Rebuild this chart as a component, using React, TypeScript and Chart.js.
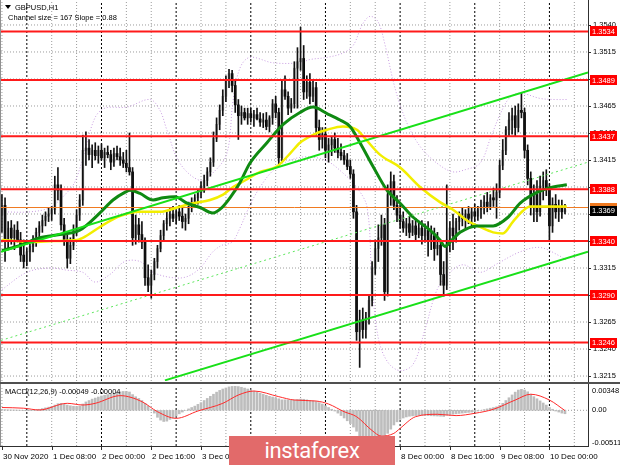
import React, { useEffect, useRef } from "react";
import { Chart, registerables } from "chart.js";
Chart.register(...registerables);

const FONT = '"Liberation Sans", Arial, sans-serif';

// ---- candles, GBPUSD H1 (price x 10000), bar 0 = 30 Nov 16:00 ----
const opens = [
  13364,13373,13341,13352,13343,13350,13341,13327,13321,13330,
  13335,13341,13348,13354,13359,13363,13365,13369,13392,13387,
  13355,13341,13324,13336,13350,13364,13378,13424,13426,13420,
  13424,13419,13424,13417,13422,13420,13413,13421,13418,13415,
  13412,13408,13404,13343,13355,13346,13339,13306,13299,13309,
  13321,13333,13345,13356,13361,13365,13361,13367,13363,13358,
  13361,13372,13376,13380,13385,13391,13396,13404,13413,13435,
  13448,13461,13474,13489,13495,13484,13466,13456,13459,13454,
  13458,13454,13457,13453,13450,13452,13446,13454,13467,13459,
  13417,13480,13474,13463,13467,13500,13506,13509,13478,13487,
  13474,13482,13445,13434,13439,13424,13429,13434,13426,13422,
  13419,13415,13409,13402,13367,13256,13267,13258,13269,13285,
  13315,13333,13343,13355,13293,13383,13395,13373,13364,13358,
  13352,13356,13348,13354,13346,13352,13345,13350,13341,13345,
  13333,13336,13309,13299,13341,13352,13345,13358,13363,13361,
  13365,13361,13367,13363,13369,13372,13376,13372,13380,13378,
  13385,13410,13424,13443,13452,13456,13445,13461,13459,13424,
  13398,13373,13383,13367,13391,13396,13389,13354,13374,13367,
  13372,13367,
];
const highs = [
  13383,13380,13358,13359,13355,13358,13348,13341,13333,13337,
  13345,13352,13358,13364,13367,13371,13372,13400,13408,13392,
  13361,13348,13343,13355,13369,13383,13438,13441,13434,13429,
  13431,13428,13430,13426,13428,13424,13426,13428,13426,13422,
  13424,13440,13408,13364,13361,13358,13343,13318,13313,13324,
  13336,13350,13359,13367,13371,13372,13369,13373,13371,13365,
  13376,13380,13383,13387,13395,13401,13408,13417,13441,13454,
  13466,13480,13493,13499,13498,13489,13471,13465,13463,13463,
  13463,13461,13463,13459,13458,13459,13456,13471,13474,13463,
  13489,13493,13478,13472,13506,13519,13538,13521,13493,13495,
  13489,13487,13452,13445,13445,13435,13437,13440,13435,13430,
  13424,13421,13415,13406,13373,13276,13278,13274,13290,13321,
  13341,13355,13364,13361,13392,13404,13401,13382,13373,13367,
  13361,13363,13359,13361,13358,13359,13356,13358,13354,13352,
  13348,13341,13321,13392,13358,13365,13361,13367,13371,13369,
  13372,13371,13374,13372,13378,13382,13385,13383,13389,13393,
  13415,13434,13446,13459,13463,13465,13467,13477,13463,13429,
  13404,13392,13396,13400,13404,13406,13393,13380,13383,13378,
  13378,13374,
];
const lows = [
  13348,13321,13333,13337,13332,13339,13321,13315,13317,13321,
  13330,13335,13343,13348,13354,13358,13359,13365,13378,13350,
  13336,13315,13319,13332,13345,13359,13373,13410,13415,13408,
  13415,13412,13415,13408,13417,13406,13409,13415,13410,13408,
  13404,13401,13336,13337,13339,13333,13299,13293,13287,13304,
  13315,13330,13341,13350,13354,13358,13356,13359,13352,13350,
  13356,13367,13371,13374,13380,13385,13391,13400,13409,13432,
  13443,13456,13469,13482,13478,13459,13434,13448,13452,13448,
  13450,13446,13452,13446,13445,13443,13441,13448,13454,13410,
  13413,13471,13457,13459,13463,13463,13498,13471,13472,13467,
  13469,13438,13424,13426,13417,13413,13419,13422,13417,13415,
  13411,13406,13398,13361,13248,13223,13250,13250,13263,13280,
  13309,13321,13336,13285,13289,13373,13369,13358,13352,13348,
  13345,13343,13345,13341,13343,13337,13339,13326,13332,13322,
  13327,13299,13289,13295,13330,13332,13339,13350,13354,13352,
  13356,13354,13358,13359,13361,13365,13367,13369,13372,13361,
  13380,13406,13420,13437,13439,13437,13441,13454,13417,13392,
  13364,13358,13358,13363,13378,13382,13341,13348,13361,13358,
  13361,13365,
];
const closes = [
  13373,13341,13352,13343,13350,13341,13327,13321,13330,13335,
  13341,13348,13354,13359,13363,13365,13369,13392,13387,13355,
  13341,13324,13336,13350,13364,13378,13424,13426,13420,13424,
  13419,13424,13417,13422,13420,13413,13421,13418,13415,13412,
  13408,13404,13343,13355,13346,13339,13306,13299,13309,13321,
  13333,13345,13356,13361,13365,13361,13367,13363,13358,13361,
  13372,13376,13380,13385,13391,13396,13404,13413,13435,13448,
  13461,13474,13489,13495,13484,13466,13456,13459,13454,13458,
  13454,13457,13453,13450,13452,13446,13454,13467,13459,13417,
  13480,13474,13463,13467,13500,13506,13509,13478,13487,13474,
  13482,13445,13434,13439,13424,13429,13434,13426,13422,13419,
  13415,13409,13402,13367,13256,13267,13258,13269,13285,13315,
  13333,13343,13355,13293,13383,13395,13373,13364,13358,13352,
  13356,13348,13354,13346,13352,13345,13350,13341,13345,13333,
  13336,13309,13299,13341,13352,13345,13358,13363,13361,13365,
  13361,13367,13363,13369,13372,13376,13372,13380,13378,13385,
  13410,13424,13443,13452,13456,13445,13461,13459,13424,13398,
  13373,13383,13367,13391,13396,13389,13354,13374,13367,13372,
  13367,13369,
];

// ---- indicator lines: [bar, price x 10000] ----
const greenMA = [
  [0,13331],[5.8,13336],[12.2,13343],[18.6,13346],[25,13350],[31.5,13366],[35.7,13378],[39.5,13385],
  [41.2,13387],[44.4,13384],[48.6,13378],[51.8,13380],[55.6,13381],[59.5,13375],[63.7,13371],[67.8,13366],
  [70.7,13371],[73.3,13380],[76.5,13394],[79.7,13412],[85.2,13431],[90.4,13448],[95.8,13459],[100,13464],
  [104.5,13458],[108.7,13452],[111.9,13446],[115.1,13431],[119.3,13409],[123.8,13387],[128,13375],
  [132.2,13362],[137.6,13350],[140.8,13341],[142.4,13335],[144.7,13341],[147.3,13348],[152.7,13354],
  [157.9,13354],[162.7,13362],[166.6,13375],[172,13385],[177.2,13390],[181.6,13392],
];
const yellowMA = [
  [0,13341],[10,13339],[16.4,13340],[24.1,13341],[26.7,13344],[31.5,13353],[37.9,13363],[44.4,13367],
  [50.8,13367],[56.3,13371],[61.4,13375],[66.9,13378],[71.1,13383],[74.3,13390],[78.1,13396],[83,13404],
  [88.4,13409],[92.6,13421],[95.8,13431],[101.3,13440],[104.5,13443],[109.6,13446],[114.1,13443],
  [116.7,13435],[121.5,13420],[128,13408],[134.4,13390],[140.8,13376],[145,13369],[149.5,13359],
  [153.7,13353],[157.9,13348],[161,13347],[164.3,13358],[167.5,13368],[169.8,13372],[174.6,13372],[181.6,13372],
];
const bandUpper = [
  [0,13367],[9,13367],[15.4,13371],[20.3,13383],[23.5,13395],[26.7,13424],[29.9,13454],[33.1,13463],
  [40.2,13464],[47.6,13471],[50.8,13461],[53,13443],[57.2,13412],[63.7,13396],[67.8,13403],[72.3,13421],
  [74.3,13470],[76.5,13500],[79.7,13510],[87.1,13505],[95.8,13505],[99,13508],[104.5,13510],[109.6,13514],
  [112.9,13521],[115.8,13540],[118.3,13548],[120.9,13543],[123.2,13521],[125.7,13489],[128,13466],
  [131.2,13443],[135.4,13424],[140.8,13410],[145,13404],[148.9,13406],[153.7,13412],[156.9,13434],
  [160.1,13457],[163.3,13473],[166.6,13477],[173,13472],[177.8,13471],[181.6,13471],
];
const bandLower = [
  [0,13295],[8,13311],[15.4,13315],[20.9,13313],[26,13311],[29.9,13302],[34.7,13309],[39.5,13321],
  [44.4,13321],[48.6,13311],[55,13306],[59.5,13307],[63.7,13315],[67.8,13330],[70.7,13336],[74,13339],
  [76.5,13352],[79.7,13373],[83,13390],[87.1,13405],[92,13414],[98,13418],[104.5,13414],[109.6,13403],
  [114,13390],[117.4,13371],[119,13300],[121,13250],[124,13228],[128,13220],[132.2,13226],[136,13258],
  [139.9,13295],[144.1,13311],[148.2,13318],[153.7,13311],[159.2,13319],[166.6,13330],[173,13334],
  [179.4,13326],[181.6,13322],
];
const channelUpper = [[-0.3,13330],[188.4,13496]];
const channelMiddle = [[-0.3,13248],[188.4,13413]];
const channelLower = [[52.4,13211],[188.4,13330]];

// ---- MACD (x 100000) ----
const macdMain = [
  12,10,8,6,5,3,1,-2,-3,-2,
  2,8,15,25,35,45,55,75,95,100,
  90,75,65,58,55,60,90,120,140,160,
  175,190,205,215,225,235,245,255,265,270,
  270,262,225,195,170,140,100,60,10,-40,
  -100,-140,-160,-155,-130,-110,-80,-50,-25,0,
  20,40,60,85,110,140,170,200,230,260,
  285,305,320,335,342,345,340,330,318,305,
  290,275,260,245,230,215,200,190,180,165,
  150,150,148,145,150,155,160,158,150,140,
  135,125,110,90,65,40,15,-10,-40,-75,
  -110,-150,-190,-240,-300,-380,-430,-470,-495,-500,
  -490,-460,-420,-380,-330,-270,-210,-165,-130,-110,
  -95,-85,-80,-75,-70,-70,-72,-75,-78,-80,
  -82,-85,-88,-70,-60,-55,-50,-45,-40,-35,
  -30,-25,-20,-10,0,10,20,30,40,50,
  70,100,140,180,220,260,290,300,290,265,
  230,195,165,135,105,75,40,15,-10,-25,
  -40,-49,
];
const macdSignal = [
  [0,40],[7,30],[12,5],[21,100],[26,76],[30,100],[38,210],[45,124],[50,-20],[56,-115],[63,-10],
  [71,100],[76,219],[81,276],[89,195],[94,147],[101,133],[105,90],[110,-20],[114,-91],[119,-290],
  [122,-370],[126,-330],[128,-258],[133,-91],[140,-57],[146,-76],[152,-43],[158,15],[165,147],
  [170,230],[176,147],[181,-4],
];

// ---- axes / levels / labels ----
const priceTicks = [1.3215,1.3240,1.3265,1.3290,1.3315,1.3340,1.3365,1.3390,1.3415,1.3440,1.3465,1.3490,1.3515,1.3540];
const levels = [1.3534,1.3489,1.3437,1.3388,1.3340,1.3290,1.3246];
const bidPrice = 1.3369;
const askPrice = 1.3371;
const daySeparators = [8,32,56,80,104,128,152,176];
const timeLabelBars = [0,16,32,48,64,80,96,112,128,144,160,176];
const timeLabelTexts = ["30 Nov 2020","1 Dec 08:00","2 Dec 00:00","2 Dec 16:00","3 Dec 08:00","4 Dec 00:00","4 Dec 16:00","7 Dec 08:00","8 Dec 00:00","8 Dec 16:00","9 Dec 08:00","10 Dec 00:00"];
const macdAxisValues = [0.00348, 0, -0.00511];
const macdAxisTexts = ["0.00348", "0.00", "-0.00511"];

const X_MIN = -0.3, X_MAX = 188.4;
const PRICE_MIN = 1.32104, PRICE_MAX = 1.35622;
const MACD_MIN = -0.00511, MACD_MAX = 0.00348;
const GRID_STEP = 8;

const pts = (a: number[][], d: number) => a.map(([x, y]) => ({ x, y: y / d }));

const lineDs = (data: any[], color: string, width: number, order: number, extra: any = {}) => ({
  type: "line",
  data,
  borderColor: color,
  borderWidth: width,
  pointRadius: 0,
  fill: false,
  order,
  ...extra,
});

// grid drawn as datasets at the back
function gridDatasets(yMin: number, yMax: number, hValues: number[]) {
  const out: any[] = [];
  for (let i = 0; i <= 188; i += GRID_STEP) {
    if (daySeparators.indexOf(i) >= 0) continue;
    out.push(lineDs([{ x: i, y: yMin }, { x: i, y: yMax }], "#9c9c9c", 1, 100, { borderDash: [1, 2] }));
  }
  for (const v of hValues) {
    out.push(lineDs([{ x: X_MIN, y: v }, { x: X_MAX, y: v }], "#9c9c9c", 1, 100, { borderDash: [1, 2] }));
  }
  for (const i of daySeparators) {
    out.push(lineDs([{ x: i, y: yMin }, { x: i, y: yMax }], "#000000", 1, 99, { borderDash: [2, 2] }));
  }
  return out;
}

const mainPlugin = {
  id: "mainDeco",
  afterDraw(chart: any) {
    const ctx = chart.ctx;
    const a = chart.chartArea;
    const y = chart.scales.y;
    ctx.save();
    ctx.setLineDash([]);
    ctx.strokeStyle = "#909090"; ctx.lineWidth = 1;
    ctx.beginPath(); ctx.moveTo(0.5, 0); ctx.lineTo(0.5, 384); ctx.stroke();
    ctx.strokeStyle = "#303030";
    ctx.beginPath(); ctx.moveTo(a.right + 0.5, 0); ctx.lineTo(a.right + 0.5, 384); ctx.stroke();
    ctx.fillStyle = "#505050";
    ctx.fillRect(0, 382, 620, 2);
    ctx.font = `7.5px ${FONT}`;
    ctx.textBaseline = "middle"; ctx.textAlign = "left";
    for (const p of priceTicks) {
      const py = y.getPixelForValue(p);
      ctx.strokeStyle = "#303030";
      ctx.beginPath(); ctx.moveTo(a.right, Math.round(py) + 0.5); ctx.lineTo(a.right + 3, Math.round(py) + 0.5); ctx.stroke();
      ctx.fillStyle = "#000";
      ctx.fillText(p.toFixed(4), a.right + 5, py);
    }
    for (const p of levels) {
      const py = y.getPixelForValue(p);
      ctx.fillStyle = "#ff0000";
      ctx.fillRect(a.right + 2, Math.round(py) - 5, 27, 10);
      ctx.fillStyle = "#ffffff";
      ctx.fillText(p.toFixed(4), a.right + 4, py + 0.5);
    }
    const pa = y.getPixelForValue(askPrice);
    ctx.fillStyle = "#f07a20";
    ctx.fillRect(a.right + 2, Math.round(pa) - 5, 27, 10);
    const pb = y.getPixelForValue(bidPrice);
    ctx.fillStyle = "#000000";
    ctx.fillRect(a.right + 2, Math.round(pb) - 4, 27, 10);
    ctx.fillStyle = "#ffffff";
    ctx.fillText(bidPrice.toFixed(4), a.right + 4, Math.round(pb) + 1);
    ctx.fillStyle = "#000";
    ctx.beginPath(); ctx.moveTo(5, 5); ctx.lineTo(11, 5); ctx.lineTo(8, 9); ctx.closePath(); ctx.fill();
    ctx.font = `7.5px ${FONT}`;
    ctx.fillText("GBPUSD,H1", 15, 7.5);
    ctx.fillText("Channel size = 167 Slope = 0.88", 8, 17.5);
    ctx.restore();
  },
};

const macdPlugin = {
  id: "macdDeco",
  afterDraw(chart: any) {
    const ctx = chart.ctx;
    const a = chart.chartArea;
    const y = chart.scales.y, xs = chart.scales.x;
    ctx.save();
    ctx.setLineDash([]);
    ctx.strokeStyle = "#909090"; ctx.lineWidth = 1;
    ctx.beginPath(); ctx.moveTo(0.5, 0); ctx.lineTo(0.5, a.bottom); ctx.stroke();
    ctx.strokeStyle = "#303030";
    ctx.beginPath(); ctx.moveTo(a.right + 0.5, 0); ctx.lineTo(a.right + 0.5, a.bottom + 1); ctx.stroke();
    ctx.beginPath(); ctx.moveTo(0, a.bottom + 0.5); ctx.lineTo(a.right + 1, a.bottom + 0.5); ctx.stroke();
    ctx.font = `7.5px ${FONT}`;
    ctx.textBaseline = "middle"; ctx.textAlign = "left"; ctx.fillStyle = "#000";
    macdAxisValues.forEach((v, k) => {
      let py = y.getPixelForValue(v);
      if (k === 0) py += 5;
      if (k === macdAxisValues.length - 1) py -= 3;
      ctx.fillText(macdAxisTexts[k], a.right + 4, py);
    });
    ctx.fillText("MACD(12,26,9) -0.00049 -0.00004", 5, 8);
    ctx.font = `8px ${FONT}`;
    timeLabelBars.forEach((b, k) => {
      const px = Math.round(xs.getPixelForValue(b)) + 0.5;
      ctx.beginPath(); ctx.moveTo(px, a.bottom); ctx.lineTo(px, a.bottom + 4); ctx.stroke();
      ctx.fillText(timeLabelTexts[k], px + 0.5, a.bottom + 11);
    });
    ctx.restore();
  },
};

export default function App() {
  const mainRef = useRef<HTMLCanvasElement>(null);
  const macdRef = useRef<HTMLCanvasElement>(null);

  useEffect(() => {
    const bodies = opens.map((o, i) => ({ x: i, y: [o / 1e4, closes[i] / 1e4] }));
    const wicks = highs.map((h, i) => ({ x: i, y: [lows[i] / 1e4, h / 1e4] }));
    const bodyColors = opens.map((o, i) => (closes[i] >= o ? "#a8a8a8" : "#000000"));

    const levelDs = levels.map((p) =>
      lineDs([{ x: X_MIN, y: p }, { x: X_MAX, y: p }], "#ff1a1a", 2, 0)
    );

    const main = new Chart(mainRef.current as HTMLCanvasElement, {
      type: "bar",
      data: {
        datasets: [
          ...gridDatasets(PRICE_MIN, PRICE_MAX, priceTicks),
          lineDs(pts(bandUpper, 1e4), "#c79be0", 1, 9, { borderDash: [1, 2], tension: 0.35 }),
          lineDs(pts(bandLower, 1e4), "#c79be0", 1, 9, { borderDash: [1, 2], tension: 0.35 }),
          {
            type: "bar", data: bodies, backgroundColor: bodyColors, barThickness: 2,
            grouped: false, borderWidth: 0, minBarLength: 1, order: 8,
          },
          {
            type: "bar", data: wicks, backgroundColor: "#111111", barThickness: 1,
            grouped: false, borderWidth: 0, order: 7,
          },
          lineDs([{ x: X_MIN, y: askPrice }, { x: X_MAX, y: askPrice }], "#f07a20", 1, 6),
          lineDs(pts(yellowMA, 1e4), "#f2ee00", 2.5, 5, { tension: 0.4, cubicInterpolationMode: "monotone" }),
          lineDs(pts(greenMA, 1e4), "#0f8a12", 3, 4, { tension: 0.4, cubicInterpolationMode: "monotone" }),
          lineDs(pts(channelMiddle, 1e4), "#5ce65c", 1, 3, { borderDash: [2, 3] }),
          lineDs(pts(channelUpper, 1e4), "#18e018", 2, 2),
          lineDs(pts(channelLower, 1e4), "#18e018", 2, 2),
          ...levelDs,
        ] as any,
      },
      options: {
        animation: false,
        responsive: false,
        maintainAspectRatio: false,
        events: [],
        layout: { padding: { left: 1, top: 1, right: 0, bottom: 3 } },
        plugins: { legend: { display: false }, tooltip: { enabled: false } },
        scales: {
          x: { type: "linear", min: X_MIN, max: X_MAX, display: false, offset: false },
          y: {
            type: "linear", position: "right", min: PRICE_MIN, max: PRICE_MAX,
            ticks: { display: false }, grid: { display: false }, border: { display: false },
            afterFit: (s: any) => { s.width = 32; },
          },
        },
      } as any,
      plugins: [mainPlugin],
    });

    const macd = new Chart(macdRef.current as HTMLCanvasElement, {
      type: "bar",
      data: {
        datasets: [
          ...gridDatasets(MACD_MIN, MACD_MAX, [0]),
          {
            type: "bar", data: macdMain.map((v, i) => ({ x: i, y: v / 1e5 })),
            backgroundColor: "#bdbdbd", barThickness: 2, grouped: false, borderWidth: 0, order: 2,
          },
          lineDs(pts(macdSignal, 1e5), "#ff2a2a", 1, 1, { tension: 0.4, cubicInterpolationMode: "monotone" }),
        ] as any,
      },
      options: {
        animation: false,
        responsive: false,
        maintainAspectRatio: false,
        events: [],
        layout: { padding: { left: 1, top: 2, right: 0, bottom: 19 } },
        plugins: { legend: { display: false }, tooltip: { enabled: false } },
        scales: {
          x: { type: "linear", min: X_MIN, max: X_MAX, display: false, offset: false },
          y: {
            type: "linear", position: "right", min: MACD_MIN, max: MACD_MAX,
            ticks: { display: false }, grid: { display: false }, border: { display: false },
            afterFit: (s: any) => { s.width = 32; },
          },
        },
      } as any,
      plugins: [macdPlugin],
    });

    return () => { main.destroy(); macd.destroy(); };
  }, []);

  return (
    <div style={{ position: "fixed", left: 0, top: 0, width: 620, height: 465, background: "#ffffff", overflow: "hidden" }}>
      <canvas ref={mainRef} width={620} height={384} style={{ position: "absolute", left: 0, top: 0 }} />
      <canvas ref={macdRef} width={620} height={81} style={{ position: "absolute", left: 0, top: 384 }} />
      <div
        style={{
          position: "absolute", left: 229, top: 436, width: 166, height: 29,
          background: "#e26a6a", color: "#ffffff", fontFamily: "Roboto, sans-serif",
          fontSize: 22, lineHeight: "29px", textAlign: "center", letterSpacing: -0.3,
        }}
      >
        instaforex
      </div>
    </div>
  );
}
